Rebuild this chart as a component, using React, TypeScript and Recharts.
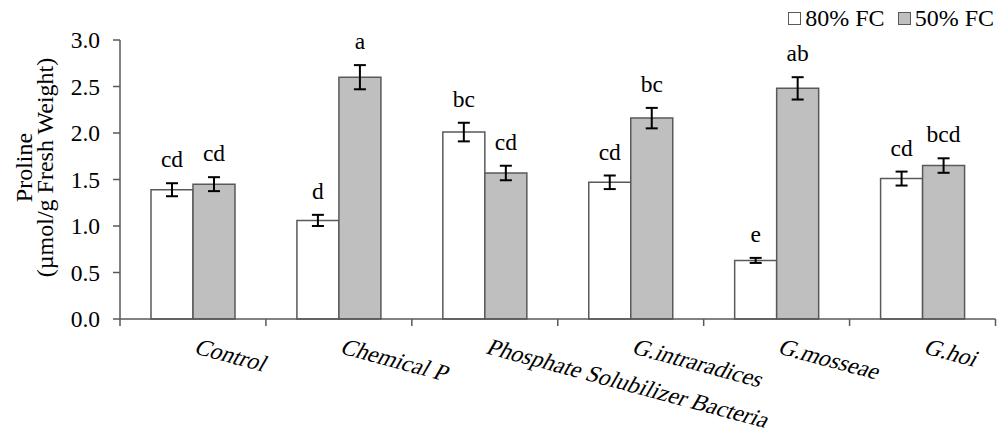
import React from 'react';
import { BarChart, Bar, XAxis, YAxis, ErrorBar, LabelList, Legend } from 'recharts';

const categories = ['Control', 'Chemical P', 'Phosphate Solubilizer Bacteria', 'G.intraradices', 'G.mosseae', 'G.hoi'];
const fc80 = [1.39, 1.06, 2.01, 1.47, 0.63, 1.51];
const fc50 = [1.45, 2.6, 1.57, 2.16, 2.48, 1.65];
const err80 = [0.07, 0.06, 0.1, 0.073, 0.027, 0.075];
const err50 = [0.075, 0.13, 0.078, 0.11, 0.12, 0.078];
const letters80 = ['cd', 'd', 'bc', 'cd', 'e', 'cd'];
const letters50 = ['cd', 'a', 'cd', 'bc', 'ab', 'bcd'];
const yTicks = [0, 0.5, 1, 1.5, 2, 2.5, 3];
const seriesNames = ['80% FC', '50% FC'];
const seriesFills = ['#ffffff', '#bfbfbf'];

const data = categories.map((name, i) => ({
  name,
  fc80: fc80[i],
  fc50: fc50[i],
  err80: err80[i],
  err50: err50[i],
}));

const FONT = '"Liberation Serif", "Times New Roman", serif';
const AXIS = '#595959';
const FS = 23.5;

const XTick = (props: any) => {
  const { x, y, payload, index, visibleTicksCount } = props;
  const half = payload && typeof payload.offset === 'number' ? payload.offset : 73;
  const ty = y + 34;
  return (
    <g>
      <line x1={x - half} x2={x - half} y1={y} y2={y + 7} stroke={AXIS} strokeWidth={1.5} />
      {index === visibleTicksCount - 1 && (
        <line x1={x + half} x2={x + half} y1={y} y2={y + 7} stroke={AXIS} strokeWidth={1.5} />
      )}
      <text
        x={0}
        y={0}
        transform={`translate(${x}, ${ty}) rotate(15) skewX(-15)`}
        textAnchor="start"
        fontFamily={FONT}
        fontSize={FS}
        fill="#000"
      >
        {payload.value}
      </text>
    </g>
  );
};

const YLabel = (props: any) => {
  const vb = props.viewBox || { x: 0, y: 40, width: 120, height: 279 };
  const cy = vb.y + vb.height / 2 - 12;
  return (
    <g>
      <text
        x={32}
        y={cy}
        transform={`rotate(-90, 32, ${cy})`}
        textAnchor="middle"
        fontFamily={FONT}
        fontSize={24}
        fill="#000"
      >
        Proline
      </text>
      <text
        x={53}
        y={cy}
        transform={`rotate(-90, 53, ${cy})`}
        textAnchor="middle"
        fontFamily={FONT}
        fontSize={24}
        fill="#000"
      >
        (µmol/g Fresh Weight)
      </text>
    </g>
  );
};

const makeLetter = (letters: string[], errs: number[], vals: number[]) => (p: any) => {
  const x = Number(p.x);
  const y = Number(p.y);
  const width = Number(p.width);
  const height = Number(p.height);
  const index = p.index;
  const errPx = vals[index] ? (errs[index] * height) / vals[index] : 0;
  return (
    <text
      x={x + width / 2}
      y={y - errPx - 16}
      textAnchor="middle"
      fontFamily={FONT}
      fontSize={FS}
      fill="#000"
    >
      {letters[index]}
    </text>
  );
};

const renderLegend = () => {
  return (
    <div style={{ display: 'flex', alignItems: 'center', height: 28, fontFamily: FONT, fontSize: 24, color: '#000' }}>
      {seriesNames.map((name, i) => (
        <div key={name} style={{ display: 'flex', alignItems: 'center', marginLeft: i === 0 ? 0 : 13 }}>
          <span
            style={{
              display: 'inline-block',
              width: 11,
              height: 11,
              border: `1.5px solid ${AXIS}`,
              background: seriesFills[i],
              marginRight: 4,
            }}
          />
          <span style={{ lineHeight: '28px' }}>{name}</span>
        </div>
      ))}
    </div>
  );
};

export default function App() {
  return (
    <div style={{ position: 'absolute', left: 0, top: 0, width: 999, height: 436, background: '#fff' }}>
      <BarChart
        width={999}
        height={436}
        data={data}
        margin={{ top: 12, right: 3.5, bottom: 87, left: 0 }}
        barCategoryGap={31}
        barGap={0}
      >
        <Legend
          verticalAlign="top"
          align="right"
          content={renderLegend}
          wrapperStyle={{ top: 4, right: 5, left: 'auto', width: 'auto' }}
        />
        <XAxis
          dataKey="name"
          type="category"
          height={30}
          interval={0}
          tickLine={false}
          tickSize={0}
          tickMargin={0}
          axisLine={{ stroke: AXIS, strokeWidth: 1.5 }}
          tick={<XTick />}
        />
        <YAxis
          width={120}
          domain={[0, 3]}
          ticks={yTicks}
          interval={0}
          tickFormatter={(v: number) => v.toFixed(1)}
          tickSize={7}
          tickMargin={13}
          axisLine={{ stroke: AXIS, strokeWidth: 1.5 }}
          tickLine={{ stroke: AXIS, strokeWidth: 1.5 }}
          tick={{ fill: '#000', fontFamily: FONT, fontSize: FS }}
          label={{ content: <YLabel /> } as any}
        />
        <Bar
          dataKey="fc80"
          name={seriesNames[0]}
          fill={seriesFills[0]}
          stroke={AXIS}
          strokeWidth={1.5}
          isAnimationActive={false}
        >
          <ErrorBar dataKey="err80" width={6} stroke="#000" strokeWidth={2} direction="y" isAnimationActive={false} />
          <LabelList dataKey="fc80" content={makeLetter(letters80, err80, fc80)} />
        </Bar>
        <Bar
          dataKey="fc50"
          name={seriesNames[1]}
          fill={seriesFills[1]}
          stroke={AXIS}
          strokeWidth={1.5}
          isAnimationActive={false}
        >
          <ErrorBar dataKey="err50" width={6} stroke="#000" strokeWidth={2} direction="y" isAnimationActive={false} />
          <LabelList dataKey="fc50" content={makeLetter(letters50, err50, fc50)} />
        </Bar>
      </BarChart>
    </div>
  );
}
